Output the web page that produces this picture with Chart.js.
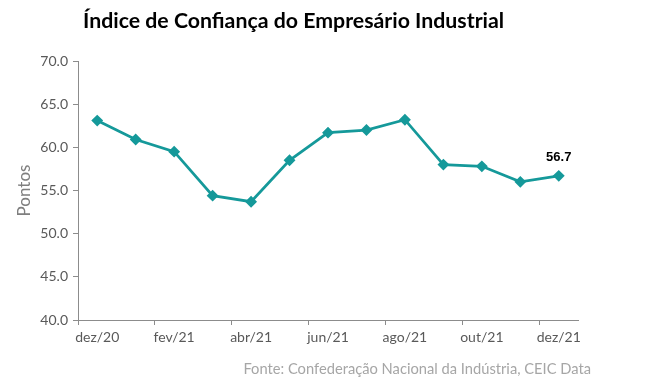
<!DOCTYPE html>
<html lang="pt">
  <head>
    <meta charset="UTF-8" />
    <title>Índice de Confiança do Empresário Industrial</title>
    <script src="https://cdn.jsdelivr.net/npm/chart.js"></script>
    <style>
      html, body { margin: 0; padding: 0; background: #fff; }
      #wrap { width: 663px; height: 392px; }
    </style>
  </head>
  <body>
    <div id="wrap"><canvas id="icei"></canvas></div>
    <script>
      // dados
      const meses = ["dez/20", "jan/21", "fev/21", "mar/21", "abr/21", "mai/21", "jun/21",
                     "jul/21", "ago/21", "set/21", "out/21", "nov/21", "dez/21"];
      const pontos = [63.1, 60.9, 59.5, 54.4, 53.7, 58.5, 61.7, 62.0, 63.2, 58.0, 57.8, 56.0, 56.7];
      const yTicks = [40, 45, 50, 55, 60, 65, 70];

      const titulo = "Índice de Confiança do Empresário Industrial";
      const fonte = "Fonte: Confederação Nacional da Indústria, CEIC Data";

      const cor = "#15999A";
      const cinza = "#595959";
      const eixo = "#8C8C8C";

      // título, fonte e rótulo do último ponto
      const textos = {
        id: "textos",
        afterDraw(chart) {
          const c = chart.ctx;
          c.save();
          c.fillStyle = "#000";
          c.font = "bold 21.3px Lato";
          c.textAlign = "left";
          c.textBaseline = "middle";
          c.fillText(titulo, 83, 21);

          c.fillStyle = "#A6A6A6";
          c.font = "14.7px Lato";
          c.textAlign = "right";
          c.fillText(fonte, 591, 369);

          const meta = chart.getDatasetMeta(0);
          const p = meta.data[meta.data.length - 1];
          c.fillStyle = "#000";
          c.font = "bold 13px 'Liberation Sans'";
          c.textAlign = "center";
          c.textBaseline = "bottom";
          c.fillText(pontos[pontos.length - 1].toFixed(1), p.x, p.y - 12);
          c.restore();
        },
      };

      const ctx = document.getElementById("icei").getContext("2d");
      new Chart(ctx, {
        type: "line",
        data: {
          labels: meses,
          datasets: [
            {
              data: pontos,
              borderColor: cor,
              backgroundColor: cor,
              borderWidth: 2.75,
              pointStyle: "rectRot",
              pointRadius: 4,
              pointHoverRadius: 4,
              tension: 0,
            },
          ],
        },
        options: {
          responsive: true,
          maintainAspectRatio: false,
          animation: false,
          layout: { padding: { top: 61, right: 85, bottom: 0, left: 0 } },
          plugins: { legend: { display: false }, tooltip: { enabled: false } },
          scales: {
            x: {
              offset: true,
              border: { color: eixo, width: 1 },
              grid: {
                offset: true,
                drawOnChartArea: false,
                tickLength: 5,
                color: (c) => (c.index % 2 === 0 ? eixo : "rgba(0,0,0,0)"),
              },
              ticks: {
                autoSkip: false,
                maxRotation: 0,
                color: cinza,
                font: { family: "Lato", size: 14 },
                padding: 4,
                callback: function (v, i) {
                  return i % 2 === 0 ? meses[i] : "";
                },
              },
              afterFit: (s) => { s.height = 72; },
            },
            y: {
              min: 40,
              max: 70,
              border: { color: eixo, width: 1 },
              grid: { drawOnChartArea: false, tickLength: 5, color: eixo },
              afterBuildTicks: (s) => { s.ticks = yTicks.map((v) => ({ value: v })); },
              ticks: {
                color: cinza,
                font: { family: "Lato", size: 14 },
                padding: 5,
                callback: (v) => Number(v).toFixed(1),
              },
              title: {
                display: true,
                text: "Pontos",
                color: "#7F7F7F",
                font: { family: "Lato", size: 17 },
                padding: { top: 14, bottom: 0 },
              },
              afterFit: (s) => { s.width = 78; },
            },
          },
        },
        plugins: [textos],
      });
    </script>
  </body>
</html>
